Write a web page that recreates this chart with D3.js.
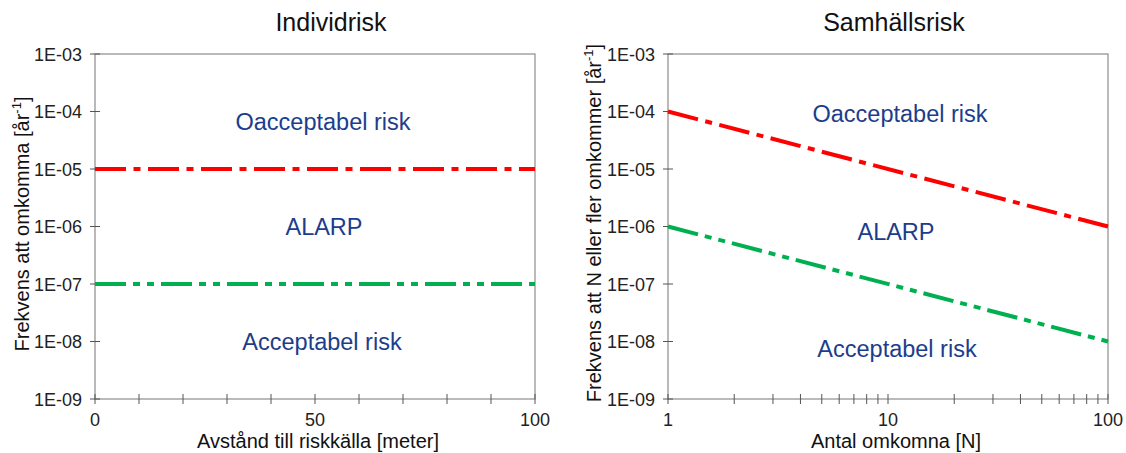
<!DOCTYPE html>
<html>
<head>
<meta charset="utf-8">
<script src="https://cdn.jsdelivr.net/npm/d3@7"></script>
<style>
body { margin: 0; background: #fff; }
text { font-family: "Liberation Sans", Arial, sans-serif; }
</style>
</head>
<body>
<div id="chart"></div>
<script>
// data
const yTicks = [1e-3, 1e-4, 1e-5, 1e-6, 1e-7, 1e-8, 1e-9];
const distX = [0, 100];
const indivRed = [1e-5, 1e-5];
const indivGreen = [1e-7, 1e-7];
const antalN = [1, 100];
const samhRed = [1e-4, 1e-6];
const samhGreen = [1e-6, 1e-8];
const distTicks = [0, 10, 20, 30, 40, 50, 60, 70, 80, 90, 100];
const distLabels = [0, 50, 100];
const nTicks = [1, 2, 3, 4, 5, 6, 7, 8, 9, 10, 20, 30, 40, 50, 60, 70, 80, 90, 100];
const nLabels = [1, 10, 100];
const zoneLabels = ["Oacceptabel risk", "ALARP", "Acceptabel risk"];

const svg = d3.select("#chart")
.append("svg")
.attr("width", 1126)
.attr("height", 453);

const plotTop = 54, plotBottom = 399;
const blue = "#1c3d8c";

function fmtE(v) {
    let e = Math.round(Math.log10(v));
    return "1E-" + String(-e).padStart(2, "0");
}

function drawPanel(opt) {
    const x = opt.xScale;
    const y = d3.scaleLog().domain([1e-9, 1e-3]).range([plotBottom, plotTop]);
    const g = svg.append("g");

    // frame
    g.append("rect")
        .attr("x", x.range()[0]).attr("y", plotTop)
        .attr("width", x.range()[1] - x.range()[0])
        .attr("height", plotBottom - plotTop)
        .attr("fill", "none")
        .attr("stroke", "#8c8c8c")
        .attr("stroke-width", 1.2);

    // y ticks
    g.selectAll(".ytick")
        .data(yTicks)
        .join("line")
        .attr("x1", x.range()[0] - 5)
        .attr("x2", x.range()[0] + 5)
        .attr("y1", d => y(d))
        .attr("y2", d => y(d))
        .attr("stroke", "#555");

    g.selectAll(".ylab")
        .data(yTicks)
        .join("text")
        .attr("x", x.range()[0] - 13)
        .attr("y", d => y(d) + 6.5)
        .attr("text-anchor", "end")
        .attr("font-size", 18)
        .attr("fill", "#222")
        .text(fmtE);

    // x ticks
    g.selectAll(".xtick")
        .data(opt.ticks)
        .join("line")
        .attr("x1", d => x(d))
        .attr("x2", d => x(d))
        .attr("y1", plotBottom - 5)
        .attr("y2", plotBottom + 5)
        .attr("stroke", "#555");

    g.selectAll(".xlab")
        .data(opt.labels)
        .join("text")
        .attr("x", d => x(d))
        .attr("y", plotBottom + 27)
        .attr("text-anchor", "middle")
        .attr("font-size", 18)
        .attr("fill", "#222")
        .text(d => d);

    // lines
    const line = d3.line().x(d => x(d[0])).y(d => y(d[1]));
    g.append("path")
        .datum(opt.xs.map((v, i) => [v, opt.red[i]]))
        .attr("d", line)
        .attr("fill", "none")
        .attr("stroke", "#ff0000")
        .attr("stroke-width", 4)
        .attr("stroke-dasharray", "31,7.5,7,7.5");
    g.append("path")
        .datum(opt.xs.map((v, i) => [v, opt.green[i]]))
        .attr("d", line)
        .attr("fill", "none")
        .attr("stroke", "#00b050")
        .attr("stroke-width", 4)
        .attr("stroke-dasharray", "31,7,7,7,7,7");

    // zone labels
    g.selectAll(".zone")
        .data(zoneLabels)
        .join("text")
        .attr("x", (d, i) => opt.zoneX[i])
        .attr("y", (d, i) => y(opt.zoneY[i]) + 8.5)
        .attr("text-anchor", "middle")
        .attr("font-size", 23.5)
        .attr("fill", blue)
        .text(d => d);

    // title
    g.append("text")
        .attr("x", opt.titleX)
        .attr("y", 31)
        .attr("text-anchor", "middle")
        .attr("font-size", 25)
        .attr("fill", "#111")
        .text(opt.title);

    // x title
    g.append("text")
        .attr("x", opt.xTitleX)
        .attr("y", 448)
        .attr("text-anchor", "middle")
        .attr("font-size", 20)
        .attr("fill", "#111")
        .text(opt.xTitle);

    // y title
    let yt = g.append("text")
        .attr("transform", "translate(" + opt.yTitleX + "," + opt.yTitleY + ") rotate(-90)")
        .attr("text-anchor", "middle")
        .attr("font-size", 20)
        .attr("fill", "#111");
    yt.append("tspan").text(opt.yTitle + " [år");
    yt.append("tspan").attr("font-size", 13).attr("dy", -8).text("-1");
    yt.append("tspan").attr("dy", 8).text("]");
}

drawPanel({
    xScale: d3.scaleLinear().domain([0, 100]).range([95, 535]),
    ticks: distTicks, labels: distLabels,
    xs: distX, red: indivRed, green: indivGreen,
    zoneX: [323, 324, 322], zoneY: [1e-4 / 1.5, 1e-6, 1e-8],
    title: "Individrisk", titleX: 331,
    xTitle: "Avstånd till riskkälla [meter]", xTitleX: 318,
    yTitle: "Frekvens att omkomma", yTitleX: 29, yTitleY: 224
});

drawPanel({
    xScale: d3.scaleLog().domain([1, 100]).range([668, 1108]),
    ticks: nTicks, labels: nLabels,
    xs: antalN, red: samhRed, green: samhGreen,
    zoneX: [900, 896, 897], zoneY: [1e-4 / 1.1, 1e-6 / 1.2, 1e-8 / 1.3],
    title: "Samhällsrisk", titleX: 894,
    xTitle: "Antal omkomna [N]", xTitleX: 896,
    yTitle: "Frekvens att N eller fler omkommer", yTitleX: 601, yTitleY: 223
});
</script>
</body>
</html>
